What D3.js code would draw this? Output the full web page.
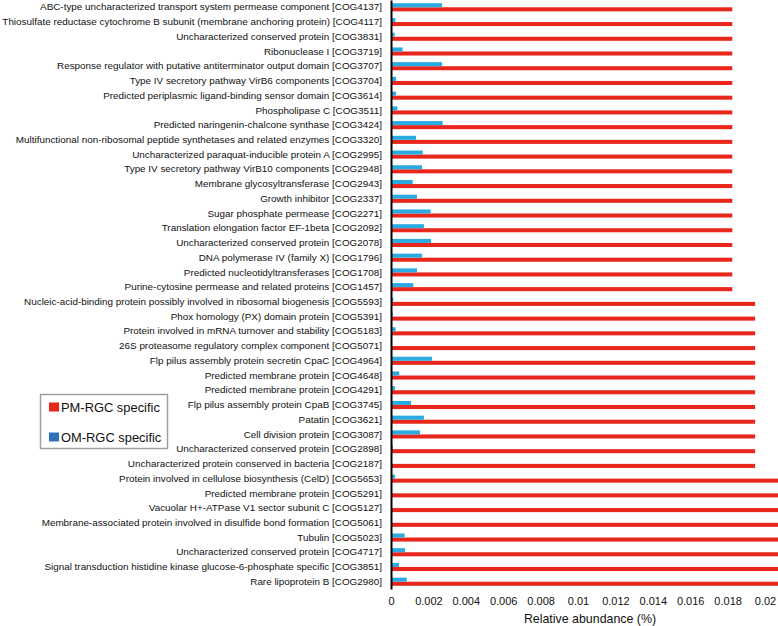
<!DOCTYPE html>
<html><head><meta charset="utf-8">
<script src="https://cdn.jsdelivr.net/npm/d3@7"></script>
<style>body{margin:0;background:#fff;}svg{display:block;font-family:"Liberation Sans",Arial,sans-serif;}</style>
</head><body><svg id="chart" width="778" height="626"></svg>
<script>
const categories = [
"ABC-type uncharacterized transport system permease component [COG4137]",
"Thiosulfate reductase cytochrome B subunit (membrane anchoring protein) [COG4117]",
"Uncharacterized conserved protein [COG3831]",
"Ribonuclease I [COG3719]",
"Response regulator with putative antiterminator output domain [COG3707]",
"Type IV secretory pathway VirB6 components [COG3704]",
"Predicted periplasmic ligand-binding sensor domain [COG3614]",
"Phospholipase C [COG3511]",
"Predicted naringenin-chalcone synthase [COG3424]",
"Multifunctional non-ribosomal peptide synthetases and related enzymes [COG3320]",
"Uncharacterized paraquat-inducible protein A [COG2995]",
"Type IV secretory pathway VirB10 components [COG2948]",
"Membrane glycosyltransferase [COG2943]",
"Growth inhibitor [COG2337]",
"Sugar phosphate permease [COG2271]",
"Translation elongation factor EF-1beta [COG2092]",
"Uncharacterized conserved protein [COG2078]",
"DNA polymerase IV (family X) [COG1796]",
"Predicted nucleotidyltransferases [COG1708]",
"Purine-cytosine permease and related proteins [COG1457]",
"Nucleic-acid-binding protein possibly involved in ribosomal biogenesis [COG5593]",
"Phox homology (PX) domain protein [COG5391]",
"Protein involved in mRNA turnover and stability [COG5183]",
"26S proteasome regulatory complex component [COG5071]",
"Flp pilus assembly protein secretin CpaC [COG4964]",
"Predicted membrane protein [COG4648]",
"Predicted membrane protein [COG4291]",
"Flp pilus assembly protein CpaB [COG3745]",
"Patatin [COG3621]",
"Cell division protein [COG3087]",
"Uncharacterized conserved protein [COG2898]",
"Uncharacterized protein conserved in bacteria [COG2187]",
"Protein involved in cellulose biosynthesis (CelD) [COG5653]",
"Predicted membrane protein [COG5291]",
"Vacuolar H+-ATPase V1 sector subunit C [COG5127]",
"Membrane-associated protein involved in disulfide bond formation [COG5061]",
"Tubulin [COG5023]",
"Uncharacterized conserved protein [COG4717]",
"Signal transduction histidine kinase glucose-6-phosphate specific [COG3851]",
"Rare lipoprotein B [COG2980]"
];
const pmValues = [
0.01825,0.01825,0.01825,0.01825,0.01825,0.01825,0.01825,0.01825,0.01825,0.01825,
0.01825,0.01825,0.01825,0.01825,0.01825,0.01825,0.01825,0.01825,0.01825,0.01825,
0.01947,0.01947,0.01947,0.01947,0.01947,0.01947,0.01947,0.01947,0.01947,0.01947,
0.01947,0.01947,
0.0210,0.0210,0.0210,0.0210,0.0210,0.0210,0.0210,0.0210
];
const omValues = [
0.00273,0.00023,0.00020,0.00062,0.00273,0.00027,0.00027,0.00034,0.00276,0.00134,
0.00170,0.00166,0.00116,0.00139,0.00212,0.00176,0.00214,0.00166,0.00139,0.00119,
0.00012,0.00009,0.00025,0.00000,0.00219,0.00044,0.00021,0.00107,0.00176,0.00155,
0.00010,0.00000,
0.00021,0.00000,0.00000,0.00000,0.00073,0.00075,0.00043,0.00084
];
const seriesNames = ["PM-RGC specific","OM-RGC specific"];
const tickValues = [0,0.002,0.004,0.006,0.008,0.01,0.012,0.014,0.016,0.018,0.02];
const tickLabels = ["0","0.002","0.004","0.006","0.008","0.01","0.012","0.014","0.016","0.018","0.02"];

const svg = d3.select("#chart");
const x = d3.scaleLinear().domain([0,0.02]).range([391,765]);
const y = d3.scaleBand().domain(categories).range([0,589]).paddingInner(0.45).paddingOuter(0.22);
const sub = d3.scaleBand().domain(["om","pm"]).range([0,y.bandwidth()]);

const rows = categories.map((c,i)=>({c, pm:pmValues[i], om:omValues[i]}));

svg.append("g").selectAll("rect").data(rows).join("rect")
  .attr("x", x(0)).attr("y", d=>y(d.c)+sub("pm"))
  .attr("width", d=>x(d.pm)-x(0)).attr("height", sub.bandwidth())
  .attr("fill","#e8261c");
svg.append("g").selectAll("rect").data(rows).join("rect")
  .attr("x", x(0)).attr("y", d=>y(d.c)+sub("om"))
  .attr("width", d=>x(d.om)-x(0)).attr("height", sub.bandwidth())
  .attr("fill","#29abe2");

const yAxis = d3.axisLeft(y).tickSize(0).tickPadding(9);
const gy = svg.append("g").attr("transform",`translate(${x(0)},0)`).call(yAxis);
gy.select(".domain").attr("stroke","#000").attr("stroke-width",2);
gy.selectAll("text").attr("font-size","9.9px").attr("fill","#111").attr("font-family","Liberation Sans, Arial, sans-serif");

const xAxis = d3.axisBottom(x).tickValues(tickValues).tickFormat((d,i)=>tickLabels[i]).tickSize(0).tickPadding(8);
const gx = svg.append("g").attr("transform","translate(0,589)").call(xAxis);
gx.select(".domain").remove();
gx.selectAll("text").attr("font-size","11px").attr("fill","#111").attr("font-family","Liberation Sans, Arial, sans-serif");

svg.append("text").attr("x",590).attr("y",623).attr("text-anchor","middle")
  .attr("font-size","12.4px").attr("fill","#111").text("Relative abundance (%)");

const lg = svg.append("g");
lg.append("rect").attr("x",40.5).attr("y",394.5).attr("width",127).attr("height",54)
  .attr("fill","#fff").attr("stroke","#a0a0a0").attr("stroke-width",1.5);
const legColors = ["#e8261c","#2f72b5"];
seriesNames.forEach((n,i)=>{
  const cy = 407 + i*30;
  lg.append("rect").attr("x",49).attr("y",cy-4.5).attr("width",10).attr("height",9).attr("fill",legColors[i]);
  lg.append("text").attr("x",61).attr("y",cy).attr("dy","0.35em").attr("font-size","12.9px").attr("fill","#111").text(n);
});
</script></body></html>
